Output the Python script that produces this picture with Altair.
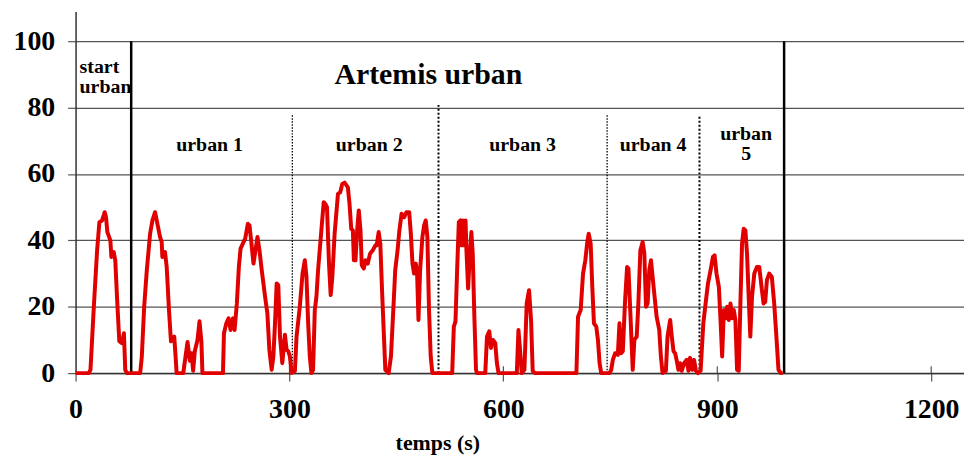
import altair as alt
import pandas as pd

# ---- speed trace (time in s, speed in km/h) ----
time_s = [0, 18.6, 20.9, 25.6, 30.2, 33.4, 37.2, 40.9, 42.7, 44.6, 48.8, 50.2, 53.4, 55.7,
          58.1, 61.3, 65, 67.8, 69.7, 72, 90.6, 92.9, 96.2, 99.9, 104.5, 107.8, 111.5, 113.8,
          118.5, 120.8, 121.7, 125.4, 127.8, 131, 133.8, 138.4, 140.3, 141.7, 151, 154.2, 157,
          160.3, 162.6, 164.9, 167.2, 171, 173.8, 176.5, 177.9, 206.7, 208.1, 211.4, 214.6,
          217.4, 220.7, 223, 226.2, 229, 231.4, 234.6, 237.9, 241.6, 243.9, 246.2, 249.5,
          255.1, 257.9, 261.1, 265.8, 269, 271.8, 275, 277.4, 279.7, 282, 284.3, 286.7, 289.9,
          293.6, 296, 298.3, 300.6, 302.9, 307.6, 309.9, 314.5, 318.3, 321.5, 323.8, 326.2,
          328.5, 330.8, 333.1, 335.5, 337.8, 340.1, 342.4, 344.7, 348, 350.3, 352.6, 355.4,
          357.8, 360.1, 363.3, 368, 371.2, 374, 377.3, 381.9, 384.2, 386.6, 388.9, 390.3,
          392.6, 394.9, 397.2, 399.6, 401.4, 404.2, 406.5, 409.8, 413, 416.8, 420.5, 422.3,
          425.1, 427.4, 429.8, 432.1, 434.4, 439.1, 442.3, 445.6, 448.3, 451.6, 453.9, 457.2,
          460.9, 464.1, 467.9, 470.2, 472.5, 474.8, 477.2, 479, 480.9, 483.2, 486.4, 488.8,
          491.1, 493.4, 495.7, 498.1, 500.4, 528.2, 530.5, 532.8, 535.1, 537.5, 539.8, 541.2,
          543, 544.4, 546.9, 548.2, 550.5, 552.8, 555.1, 557, 559.3, 561.6, 563, 574.6, 577,
          580.2, 582.5, 585.3, 588.6, 590.9, 593.2, 618.8, 621.1, 623.4, 625.7, 629.5, 632.7,
          636, 638.8, 641.1, 644.3, 702.4, 704.7, 708.4, 711.7, 714.9, 717.7, 719.6, 722.4,
          724.7, 727, 730.3, 732.6, 734.9, 737.2, 749, 751.2, 753.5, 756.8, 760.5, 762.8,
          765.1, 767.5, 770.7, 773.5, 775.4, 778.1, 781.4, 783.7, 787, 789.3, 792.1, 795.3,
          797.7, 800, 802.3, 804.6, 807, 809.3, 811.6, 814.9, 818.6, 820.9, 823.2, 827.9,
          830.2, 833.9, 836.2, 838.6, 840.9, 843.2, 845.5, 847.8, 850.2, 853.4, 857.1, 859.5,
          861.8, 865, 867.4, 870.1, 872.9, 876.6, 880.4, 883.6, 886.9, 890.6, 893.8, 896.2,
          898.9, 902.2, 904.5, 906.8, 909.2, 911.5, 913.8, 916.1, 918.5, 920.8, 923.1, 925.4,
          927.7, 930.1, 932.4, 934.7, 937, 939.4, 941.7, 944, 946.3, 948.7, 951.9, 955.6,
          958.9, 962.6, 964.9, 967.2, 969.6, 972.8, 976.5, 979.8, 982.6, 985.8, 989.1, 991.9]

speed = [0, 0, 1, 20, 37, 45.5, 46, 48.5, 47, 42.5, 40, 35, 36.5, 34,
         23, 9.6, 9, 12, 1, 0, 0, 5, 20, 31, 42, 46, 48.5, 46,
         41, 39.5, 35, 36.5, 32, 19, 9.6, 11, 5, 0, 0, 5, 9.4,
         3.7, 6, 0.7, 6.6, 10, 15.6, 9.4, 0, 0, 12, 15, 16.5,
         13, 16.5, 13, 21, 32, 37.5, 39, 40.5, 45, 44.5, 40, 33,
         41, 37, 31, 23, 18, 7, 1, 5, 15, 27, 26.5, 11, 3,
         11.6, 7, 6.6, 5, 0, 0.7, 11, 20, 30, 34, 29, 15,
         5, 0, 1, 19, 23, 31, 37, 43, 51.5, 51, 50, 33,
         23.5, 29, 42, 54, 54.5, 57, 57.4, 56, 51, 43.5, 43, 34,
         34, 43, 49, 43, 32.5, 31.5, 34, 33, 36, 37, 38.5, 38.5,
         42.5, 39, 25, 13, 1, 0, 5, 19, 31, 37, 42.5, 48,
         47, 48.5, 48.5, 42, 33, 30, 33, 30, 16, 31, 41, 44.5,
         46, 41, 19, 5, 0, 0, 14, 15.6, 31, 45.5, 46, 38.5,
         46, 38.5, 46, 37, 25.5, 35, 42.5, 36, 17, 1, 0, 0, 11,
         12.6, 7.6, 10, 9, 3, 0, 0, 13, 7, 0, 1, 21,
         25, 16, 0.7, 0, 0, 17, 19, 30, 34, 39.5, 42, 39,
         26, 15, 14, 10, 3, 0, 0, 1, 4, 6, 5.5, 15,
         6, 6.6, 22, 32, 31.5, 18, 1, 10, 11, 21, 37, 39.5,
         36, 20, 21, 31, 34, 29, 24, 17, 13, 5, 0, 0.7,
         11, 16, 11, 6.6, 6, 3.7, 1, 3, 0.7, 3, 4, 0.7,
         4.6, 1, 4, 0.7, 0, 0.7, 15, 21, 27, 31, 35, 35.5,
         30, 26, 16, 5, 19, 16.5, 20, 16, 21, 16.5, 19, 16,
         1, 0.7, 21, 39, 43.5, 43, 36, 23, 11, 23, 30, 32,
         32, 25, 21, 21.5, 28, 30, 29, 21, 12, 1, 0, 0]

x_ticks = [0, 300, 600, 900, 1200]
y_ticks = [0, 20, 40, 60, 80, 100]

# phase separators
solid_t = [78, 993.7]
solid_top = [100, 100]
dot_light_t = [304, 745.5]
dot_light_top = [77.8, 77.8]
dot_dark_t = [509, 875]
dot_dark_top = [80.8, 77.8]

# annotations
phase_labels = ["urban 1", "urban 2", "urban 3", "urban 4", "urban\n5"]
phase_t = [188, 411.8, 627, 810, 940.4]
phase_v = [67, 67, 67, 67, 70.2]
start_label = ["start\nurban"]
start_t = [5.6]
start_v = [90.5]
main_label = ["Artemis urban"]
main_t = [494.8]
main_v = [87.1]

FONT = "Liberation Serif"
xscale = alt.Scale(domain=[0, 1246], nice=False, zero=False)
yscale = alt.Scale(domain=[0, 109], nice=False, zero=False)

xaxis = alt.Axis(
    values=x_ticks, format="d", grid=False, labelFont=FONT, labelFontWeight="bold",
    labelFontSize=28, labelColor="black", labelFlush=False, labelOverlap=False,
    labelPadding=15, tickSize=8, tickColor="#555", tickWidth=1.2, domainColor="#333",
    domainWidth=1.5, title="temps (s)", titleFont=FONT, titleFontWeight="bold",
    titleFontSize=22, titleColor="black", titleX=364, titleY=77, titleAlign="center",
    titleBaseline="alphabetic")
yaxis = alt.Axis(
    values=y_ticks, format="d", grid=True, gridColor="#555", gridWidth=1.2, labelFont=FONT,
    labelFontWeight="bold", labelFontSize=28, labelColor="black", labelFlush=False,
    labelOverlap=False, labelPadding=13, tickSize=8, tickColor="#555", tickWidth=1.2,
    domainColor="#333", domainWidth=1.5, title=None)


def X():
    return alt.X("t:Q", scale=xscale, axis=xaxis, title="temps (s)")


def Y():
    return alt.Y("v:Q", scale=yscale, axis=yaxis, title=None)


trace = pd.DataFrame({"t": time_s, "v": speed})

line = alt.Chart(trace).mark_line(color="#e00000", strokeWidth=4, strokeJoin="round").encode(
    x=X(), y=Y())


def rules(ts, bottoms, tops, color, **kw):
    df = pd.DataFrame({"t": ts, "v": bottoms, "v1": tops})
    return alt.Chart(df).mark_rule(color=color, **kw).encode(x=X(), y=Y(), y2="v1:Q")


inner_ticks = rules(x_ticks[1:], [0] * 4, [2.1] * 4, "#555", strokeWidth=1.2)
solid = rules(solid_t, [0, 0], solid_top, "black", strokeWidth=2.5)
dot_light = rules(dot_light_t, [0, 0], dot_light_top, "black", strokeWidth=1.3,
                  strokeDash=[1.5, 1.5])
dot_dark = rules(dot_dark_t, [0, 0], dot_dark_top, "black", strokeWidth=2, strokeDash=[2, 2])


def texts(labels, ts, vs, size, align):
    df = pd.DataFrame({"t": ts, "v": vs, "label": labels})
    return alt.Chart(df).mark_text(
        font=FONT, fontWeight="bold", fontSize=size, align=align, baseline="alphabetic",
        lineBreak="\n", lineHeight=20, color="black").encode(
        x=X(), y=Y(), text="label:N")


phase_txt = texts(phase_labels, phase_t, phase_v, 20, "center")
start_txt = texts(start_label, start_t, start_v, 20, "left")
main_txt = texts(main_label, main_t, main_v, 30, "center")

chart = alt.layer(
    inner_ticks, solid, dot_light, dot_dark, line, phase_txt, start_txt, main_txt
).properties(
    width=894, height=364,
    autosize=alt.AutoSizeParams(type="none"),
    padding={"left": 68, "top": 2, "right": 0, "bottom": 84},
).configure_view(stroke=None)

chart.save("out.html", embed_options={"renderer": "svg", "actions": False})
